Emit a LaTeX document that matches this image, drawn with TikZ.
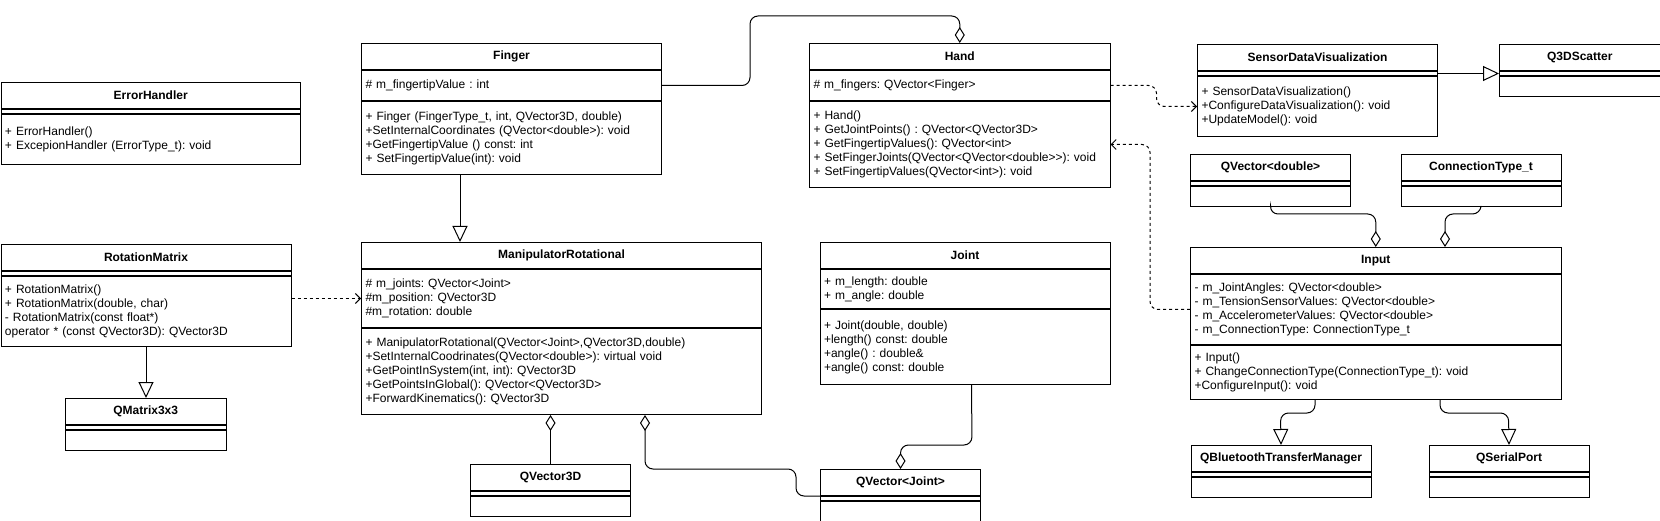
\documentclass[tikz,border=0pt]{standalone}
\usepackage{fontspec}
\setmainfont{Liberation Sans}
\frenchspacing
\usetikzlibrary{arrows.meta,positioning}

\begin{document}
\begin{tikzpicture}[x=1pt,y=-1pt,line width=1pt,font=\fontsize{12}{14}\selectfont,
clsname/.style={draw,anchor=north west,inner sep=0pt,minimum height=26pt,font=\fontsize{12}{14}\selectfont\bfseries},
clsgap/.style={draw,anchor=north west,inner sep=0pt,minimum height=4pt},
clsslot/.style={draw,anchor=north west,inner sep=0pt,minimum height=20pt},
clsbody/.style={draw,anchor=north west,align=left,inner xsep=4pt,inner ysep=0pt,text width=#1},
gen/.style={-{Triangle[open,length=16pt,width=15pt]}},
aggr/.style={{Diamond[open,length=16pt,width=10pt]}-},
dep/.style={dash pattern=on 3pt off 3pt,-{Straight Barb[length=5pt,width=10pt]}},
elbow/.style={rounded corners=8pt}]
\useasboundingbox (0,0) rectangle (1660,521);
\node[clsname,minimum width=299.5] (err) at (0.5,82){ErrorHandler};\node[clsgap,minimum width=299.5] (err-g) at (err.south west){};
\node[clsbody=291.5,minimum height=50] (err-b) at (err-g.south west){+ ErrorHandler()\\+ ExcepionHandler (ErrorType\_t): void};
\node[clsname,minimum width=290] (rot) at (0.5,244){RotationMatrix};\node[clsgap,minimum width=290] (rot-g) at (rot.south west){};
\node[clsbody=282,minimum height=70] (rot-b) at (rot-g.south west){+ RotationMatrix()\\+ RotationMatrix(double, char)\\- RotationMatrix(const float*)\\operator * (const QVector3D): QVector3D};
\node[clsname,minimum width=300] (finger) at (361,43){Finger};
\node[clsbody=292,minimum height=30] (finger-a) at (finger.south west){\# m\_fingertipValue : int};
\node[clsbody=292,minimum height=73] (finger-m) at (finger-a.south west){+ Finger (FingerType\_t, int, QVector3D, double)\\+SetInternalCoordinates (QVector<double>): void\\+GetFingertipValue () const: int\\+ SetFingertipValue(int): void};
\node[clsname,minimum width=300.5] (hand) at (809,43){Hand};
\node[clsbody=292.5,minimum height=30] (hand-a) at (hand.south west){\# m\_fingers: QVector<Finger>};
\node[clsbody=292.5,minimum height=86] (hand-m) at (hand-a.south west){+ Hand()\\+ GetJointPoints() : QVector<QVector3D>\\+ GetFingertipValues(): QVector<int>\\+ SetFingerJoints(QVector<QVector<double>{}>): void\\+ SetFingertipValues(QVector<int>): void};
\node[clsname,minimum width=240] (sdv) at (1197,44){SensorDataVisualization};\node[clsgap,minimum width=240] (sdv-g) at (sdv.south west){};
\node[clsbody=232,minimum height=60] (sdv-b) at (sdv-g.south west){+ SensorDataVisualization()\\+ConfigureDataVisualization(): void\\+UpdateModel(): void};
\node[clsname,minimum width=400] (manip) at (361,242){ManipulatorRotational};
\node[clsbody=392,minimum height=58] (manip-a) at (manip.south west){\# m\_joints: QVector<Joint>\\\#m\_position: QVector3D\\\#m\_rotation: double};
\node[clsbody=392,minimum height=86] (manip-m) at (manip-a.south west){+ ManipulatorRotational(QVector<Joint>,QVector3D,double)\\+SetInternalCoodrinates(QVector<double>): virtual void\\+GetPointInSystem(int, int): QVector3D\\+GetPointsInGlobal(): QVector<QVector3D>\\+ForwardKinematics(): QVector3D};
\node[clsname,minimum width=290] (joint) at (819.5,242){Joint};
\node[clsbody=282,minimum height=39] (joint-a) at (joint.south west){+ m\_length: double\\+ m\_angle: double};
\node[clsbody=282,minimum height=75] (joint-m) at (joint-a.south west){+ Joint(double, double)\\+length() const: double\\+angle() : double\&\\+angle() const: double};
\node[clsname,minimum width=370.5] (input) at (1190,247){Input};
\node[clsbody=362.5,minimum height=70] (input-a) at (input.south west){- m\_JointAngles: QVector<double>\\- m\_TensionSensorValues: QVector<double>\\- m\_AccelerometerValues: QVector<double>\\- m\_ConnectionType: ConnectionType\_t};
\node[clsbody=362.5,minimum height=54] (input-m) at (input-a.south west){+ Input()\\+ ChangeConnectionType(ConnectionType\_t): void\\+ConfigureInput(): void};
\foreach \nm/\lbl/\px/\py/\w in {q3d/Q3DScatter/1499/44/160.5,qmat/QMatrix3x3/65/398/160.5,qv3d/QVector3D/470/464/160,qvj/QVector<Joint>/820/469/160,qvd/QVector<double>/1190/154/160,ctype/ConnectionType\_t/1400.5/154/160,qbt/QBluetoothTransferManager/1190.5/445/180,qsp/QSerialPort/1428.5/445/160}{\node[clsname,minimum width=\w] (\nm) at (\px,\py){\lbl};\node[clsgap,minimum width=\w] (\nm-g) at (\nm.south west){};\node[clsslot,minimum width=\w] (\nm-b) at (\nm-g.south west){};}
\draw[aggr,elbow] (hand.north) |- (750,16) |- (finger-a.east);
\draw[gen] ([xshift=99pt]finger-m.south west) -- ([xshift=99pt]manip.north west);
\draw[dep] (rot-b.east |- manip-a.west) -- (manip-a.west);
\draw[gen] (rot-b.south) -- (rot-b.south |- qmat.north);
\draw[aggr] (manip-m.south -| qv3d.north) -- (qv3d.north);
\draw[aggr,elbow] ([xshift=284pt]manip-m.south west) |- (796,469) |- (qvj.south west);
\draw[aggr,elbow] (qvj.north) |- (972,445) -- ([xshift=152pt]joint-m.south west);
\draw[dep,elbow] (hand-a.east) -- ++(46,0) |- (sdv-b.west);
\draw[dep,elbow] (input-a.west) -- ++(-40,0) |- (hand-m.east);
\draw[gen] (sdv.south east |- q3d-g.west) -- (q3d-g.west);
\draw[aggr,elbow] (input.north) |- (1270,214) -- (qvd-b.south);
\draw[aggr,elbow] ([xshift=255pt]input.north west) |- (1480.5,214) -- (ctype-b.south);
\draw[gen,elbow] ([xshift=125pt]input-m.south west) |- (1280.5,413) -- (qbt.north);
\draw[gen,elbow] ([xshift=250pt]input-m.south west) |- (1508.5,413) -- (qsp.north);
\end{tikzpicture}
\end{document}
